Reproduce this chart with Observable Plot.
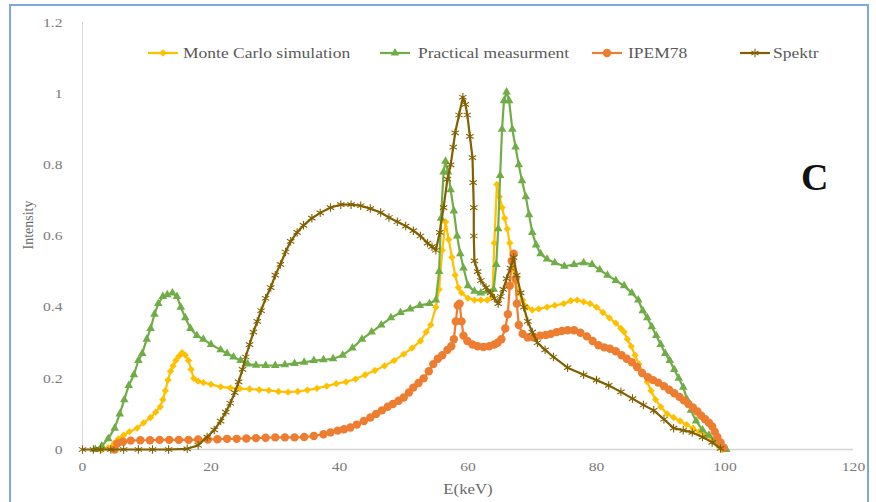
<!DOCTYPE html>
<html>
<head>
<meta charset="utf-8">
<script src="https://cdn.jsdelivr.net/npm/d3@7"></script>
<script src="https://cdn.jsdelivr.net/npm/@observablehq/plot@0.6"></script>
<style>
  body { margin: 0; background: #fff; }
  #wrap { position: relative; width: 876px; height: 502px; overflow: hidden; background: #fff;
          font-family: "Liberation Serif", "Times New Roman", serif; }
  #frame { position: absolute; left: 9px; top: 4px; width: 860px; height: 540px;
           border: 2px solid #7ea7dd; box-sizing: border-box; pointer-events: none; }
  #chart { position: absolute; left: 0; top: 0; }
  #legend { position: absolute; left: 0; top: 0; font-family: "Liberation Serif", serif; }
  #panel { position: absolute; left: 801px; top: 155px; font-size: 38px; font-weight: bold; color: #111; }
</style>
</head>
<body>
<div id="wrap">
  <div id="chart"></div>
  <svg id="legend" width="876" height="90"></svg>
  <div id="panel">C</div>
  <div id="frame"></div>
</div>
<script>
// Axis ticks
const xTicks = [0, 20, 40, 60, 80, 100, 120];
const yTicks = [0, 0.2, 0.4, 0.6, 0.8, 1, 1.2];

// Series names and colours
const seriesNames = ["Monte Carlo simulation", "Practical measurment", "IPEM78", "Spektr"];
const seriesColors = ["#ffc000", "#70ad47", "#ed7d31", "#806000"];

// Monte Carlo simulation: energy (keV) and intensity
const mcE = [3,4,4.9,5.6,6.4,7.3,8.5,9.5,10.6,11.4,12.1,12.5,12.9,13.3,13.7,14.1,14.5,15,15.5,16,16.5,16.9,17.3,18,18.8,20,21.5,23,24.5,26,27.5,29,30.5,32,33.5,35,36.5,38,39.5,41,42.5,44,45.5,47,48.5,50,51.3,52.6,53.5,54.2,55,55.5,56,56.5,57,57.5,58,58.5,59,60,61,62,63,63.8,64.1,64.5,64.9,65.3,65.7,66.1,66.5,66.9,67.4,67.9,68.5,69.2,70,71,72.3,73.5,74.9,76,77,78,79,80,81,82,83,83.8,84.3,84.8,85.4,86,86.6,87.2,87.9,88.5,89.2,90,91,92,93,94,95,96,97,98,99,99.6];
const mcI = [0,0.005,0.017,0.03,0.04,0.05,0.06,0.075,0.09,0.105,0.12,0.14,0.165,0.195,0.22,0.235,0.25,0.262,0.272,0.265,0.25,0.225,0.2,0.192,0.188,0.183,0.176,0.173,0.171,0.17,0.168,0.166,0.163,0.161,0.163,0.167,0.172,0.178,0.185,0.19,0.198,0.21,0.222,0.235,0.25,0.268,0.285,0.305,0.33,0.35,0.4,0.45,0.56,0.64,0.59,0.54,0.49,0.455,0.44,0.425,0.42,0.42,0.42,0.43,0.58,0.745,0.71,0.68,0.65,0.62,0.58,0.51,0.47,0.44,0.42,0.4,0.392,0.395,0.4,0.405,0.41,0.418,0.42,0.415,0.41,0.4,0.385,0.37,0.355,0.34,0.33,0.31,0.29,0.265,0.24,0.215,0.19,0.165,0.14,0.12,0.1,0.09,0.08,0.07,0.06,0.05,0.04,0.025,0.01,0];

// Practical measurement
const pmE = [2,3,4,5,5.8,6.5,7.2,8,8.7,9.3,10,10.6,11.2,11.8,12.5,13.2,14,14.7,15.3,16,16.8,17.8,18.8,20,21.5,22.5,23.5,24.6,25.7,27,28.5,30,31.5,33,34.5,36,37.5,39,40.5,42,43.5,45,46.5,48,49.5,51,52.5,54,55,55.5,55.8,56.2,56.5,56.9,57.3,57.8,58.3,58.8,59.3,60,61,62,63,64,64.4,64.7,65,65.3,65.6,66,66.4,66.9,67.4,67.9,68.4,69,69.5,70,70.6,71.3,72.3,73.5,75,76.5,78,79.3,80.5,81.7,83,84.3,85.5,86.5,87.2,87.9,88.6,89.3,90,90.7,91.4,92.1,92.8,93.5,94.1,94.7,95.5,96.5,97.5,98.5,99.3,100.2];
const pmI = [0,0.01,0.03,0.06,0.1,0.14,0.18,0.21,0.25,0.27,0.31,0.34,0.38,0.41,0.43,0.435,0.44,0.43,0.4,0.37,0.34,0.32,0.31,0.295,0.28,0.27,0.26,0.25,0.24,0.237,0.236,0.236,0.238,0.242,0.245,0.25,0.252,0.255,0.265,0.285,0.31,0.33,0.35,0.37,0.385,0.395,0.405,0.41,0.42,0.5,0.65,0.78,0.81,0.78,0.73,0.67,0.6,0.55,0.51,0.46,0.445,0.44,0.445,0.45,0.52,0.62,0.77,0.9,0.98,1.005,0.98,0.9,0.85,0.8,0.755,0.71,0.66,0.61,0.575,0.55,0.535,0.525,0.515,0.52,0.525,0.52,0.505,0.49,0.475,0.46,0.44,0.42,0.39,0.37,0.345,0.32,0.295,0.27,0.25,0.225,0.2,0.175,0.14,0.11,0.08,0.055,0.04,0.025,0.012,0];

// IPEM78
const ipE = [5,5.4,6.3,7.5,9,10.5,12,13.5,15,16.5,18,19.5,21,22.5,24,25.5,27,28.5,30,31.5,33,34.5,36,37.5,38.6,39.7,40.7,41.7,42.7,43.8,44.8,45.7,46.6,47.5,48.3,49.2,50,50.8,51.5,52.3,53.1,53.9,54.6,55.3,56,56.8,57.4,57.8,58.1,58.4,58.7,59,59.3,59.9,60.7,61.5,62.4,63.3,64.1,64.6,65.2,65.8,66.2,66.5,66.8,67.1,67.4,67.6,67.9,68.5,69.3,70.2,71.2,72.1,72.9,73.8,74.6,75.5,76.5,77.5,78.5,79.4,80.3,81.2,82.1,83,83.9,84.7,85.5,86.3,87.1,88,88.8,89.6,90.5,91.3,92.1,92.9,93.6,94.3,95,95.7,96.3,96.9,97.5,98,98.4,98.8,99.3,99.8];
const ipI = [0,0.017,0.022,0.025,0.026,0.026,0.027,0.027,0.027,0.027,0.028,0.028,0.029,0.03,0.03,0.031,0.032,0.033,0.034,0.034,0.034,0.035,0.038,0.043,0.048,0.053,0.057,0.062,0.07,0.08,0.09,0.1,0.11,0.12,0.128,0.137,0.146,0.16,0.174,0.187,0.2,0.22,0.24,0.255,0.265,0.28,0.29,0.31,0.36,0.405,0.41,0.36,0.32,0.305,0.295,0.29,0.288,0.29,0.295,0.3,0.31,0.34,0.38,0.46,0.53,0.55,0.48,0.41,0.35,0.325,0.315,0.315,0.32,0.322,0.325,0.33,0.333,0.335,0.335,0.328,0.318,0.305,0.293,0.287,0.283,0.276,0.265,0.255,0.245,0.232,0.215,0.203,0.195,0.188,0.178,0.168,0.158,0.148,0.138,0.128,0.118,0.107,0.095,0.085,0.075,0.065,0.05,0.035,0.02,0.005];

// Spektr
const spE = [0,1.7,2.8,4.4,6.4,8.7,10.9,13.4,16.3,18,19.4,20.5,21.5,22.3,23,23.7,24.3,24.9,25.4,26,26.6,27.2,27.8,28.5,29.3,30,30.8,31.6,32.4,33.4,34.4,35.7,37,38.6,40.2,41.8,43.3,44.8,46.4,47.7,49,50.3,51.5,52.6,53.7,54.4,55,55.6,56.2,56.8,57.3,57.7,58,58.6,59.2,59.6,59.9,60.3,60.7,60.8,60.9,60.9,61,61.5,62,62.8,63.5,64.1,64.7,65.1,65.5,66,66.6,67.1,67.6,68.2,68.7,69.3,70,70.8,72,73.3,75.5,78,80,81.9,83.8,85.6,87.3,88.9,90.5,92,93.5,94.9,96.5,98,99.3];
const spI = [0,0,0,0,0,0,0,0,0.002,0.012,0.035,0.055,0.08,0.105,0.13,0.16,0.19,0.225,0.26,0.295,0.33,0.36,0.39,0.425,0.455,0.49,0.52,0.555,0.585,0.61,0.63,0.65,0.665,0.68,0.688,0.688,0.685,0.677,0.666,0.652,0.64,0.628,0.615,0.6,0.58,0.57,0.56,0.61,0.68,0.76,0.8,0.85,0.89,0.94,0.99,0.97,0.94,0.88,0.82,0.75,0.68,0.6,0.53,0.5,0.475,0.455,0.44,0.425,0.41,0.43,0.45,0.48,0.51,0.54,0.49,0.44,0.4,0.36,0.33,0.3,0.28,0.26,0.23,0.21,0.195,0.18,0.162,0.143,0.125,0.11,0.085,0.06,0.054,0.048,0.035,0.02,0.003];

const seriesE = [mcE, pmE, ipE, spE];
const seriesI = [mcI, pmI, ipI, spI];
const symbols = ["diamond2", "triangle", "circle", "asterisk"];
const symbolR = [3.3, 3.2, 4.2, 4.0];

const rows = seriesE.map((es, k) => es.map((e, i) => ({e, v: seriesI[k][i]})));

const seriesMarks = rows.flatMap((data, k) => [
  Plot.line(data, {x: "e", y: "v", stroke: seriesColors[k], strokeWidth: 2.2, curve: "linear"}),
  k === 3
    ? Plot.dot(data, {x: "e", y: "v", symbol: () => symbols[k], r: symbolR[k], stroke: seriesColors[k], strokeWidth: 1.1, fill: "none"})
    : Plot.dot(data, {x: "e", y: "v", symbol: () => symbols[k], r: symbolR[k], fill: seriesColors[k], stroke: "none"})
]);

const fmt = d => String(+d.toFixed(1));

const chart = Plot.plot({
  width: 876,
  height: 502,
  marginLeft: 82,
  marginRight: 23,
  marginTop: 22,
  marginBottom: 53,
  style: {fontFamily: "'Liberation Serif', 'Times New Roman', serif", fontSize: "13px", background: "transparent", color: "#7a7a7a"},
  x: {domain: [0, 120]},
  y: {domain: [0, 1.2]},
  symbol: {type: "identity"},
  marks: [
    Plot.ruleY([0], {stroke: "#d4d4d4", strokeWidth: 1.3}),
    Plot.ruleX([0], {stroke: "#d9d9d9", strokeWidth: 1}),
    Plot.axisX({ticks: xTicks, tickSize: 0, tickPadding: 12, tickFormat: fmt, label: null, fill: "#7a7a7a"}),
    Plot.axisY({ticks: yTicks, tickSize: 0, tickPadding: 20, tickFormat: fmt, label: null, fill: "#7a7a7a"}),
    ...seriesMarks,
    Plot.text(["E(keV)"], {x: 60, frameAnchor: "bottom", dy: 44, text: d => d, fontSize: 14, fill: "#6a6a6a"}),
    Plot.text(["Intensity"], {frameAnchor: "left", textAnchor: "middle", dx: -54, dy: -11, rotate: -90, text: d => d, fontSize: 14, fill: "#6a6a6a", className: "ylabel"})
  ]
});
document.getElementById("chart").appendChild(chart);

// Legend: line with a marker, then the series name
const legend = d3.select("#legend");
const legendLine = [[148, 178], [380, 410], [592, 622], [740, 770]];
const legendText = [183, 418, 628, 773];
const ly = 53;
seriesNames.forEach((name, k) => {
  const [x0, x1] = legendLine[k];
  legend.append("line").attr("x1", x0).attr("x2", x1).attr("y1", ly).attr("y2", ly)
    .attr("stroke", seriesColors[k]).attr("stroke-width", 2.2);
  const symType = [d3.symbolDiamond2, d3.symbolTriangle, d3.symbolCircle, d3.symbolAsterisk][k];
  const path = d3.symbol(symType, Math.PI * symbolR[k] * symbolR[k])();
  const p = legend.append("path").attr("d", path).attr("transform", `translate(${(x0 + x1) / 2},${ly})`);
  if (k === 3) p.attr("fill", "none").attr("stroke", seriesColors[k]).attr("stroke-width", 1.1);
  else p.attr("fill", seriesColors[k]);
  legend.append("text").attr("x", legendText[k]).attr("y", ly).attr("dy", "0.35em")
    .attr("font-size", 14).attr("fill", "#595959").text(name);
});

// Widen the serif lettering a little (horizontal text only)
function widen(root, k) {
  root.querySelectorAll("text").forEach(t => {
    if (t.closest(".ylabel")) return;
    const len = t.getComputedTextLength();
    if (len > 0) {
      t.setAttribute("textLength", (len * k).toFixed(1));
      t.setAttribute("lengthAdjust", "spacingAndGlyphs");
    }
  });
}
widen(document.getElementById("legend"), 1.25);
widen(chart, 1.2);
</script>
</body>
</html>
